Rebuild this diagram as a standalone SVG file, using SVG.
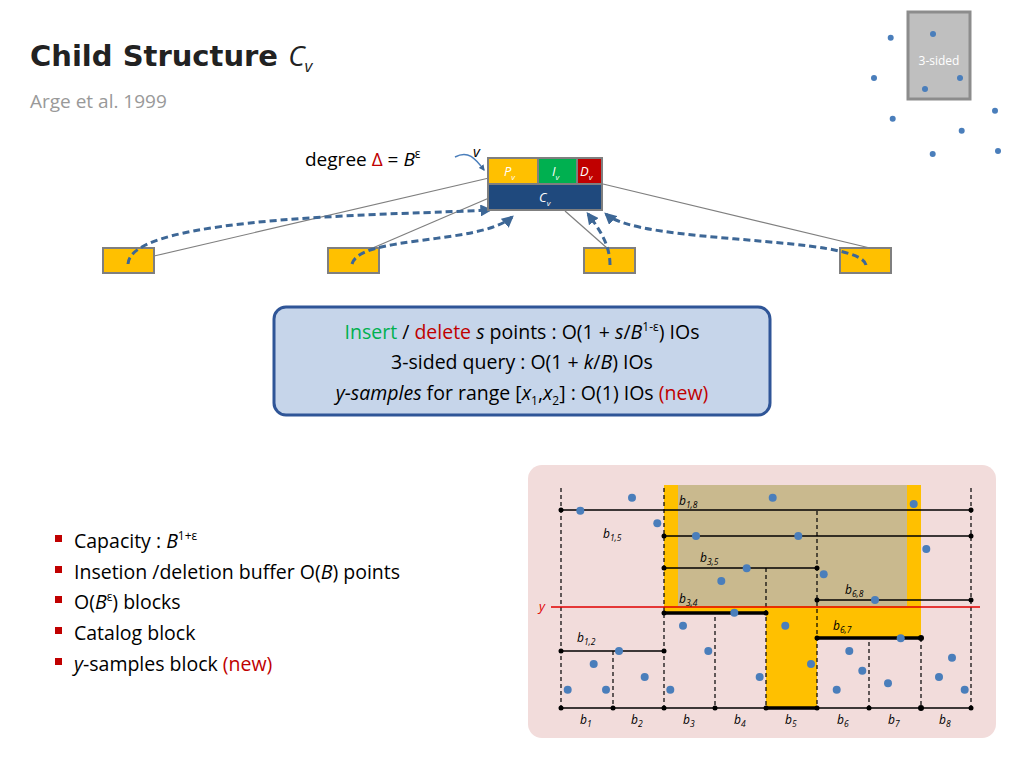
<svg xmlns="http://www.w3.org/2000/svg" width="1024" height="768" viewBox="0 0 1024 768">
<defs>
<marker id="ah" viewBox="0 0 10 10" refX="8" refY="5" markerWidth="4" markerHeight="4" orient="auto"><path d="M0,0 L10,5 L0,10 z" fill="#3d6796"/></marker>
</defs>
<style>
text{font-family:"Open Sans","Liberation Sans",sans-serif}
.dot{fill:#4a7ebb}
.leaf{fill:#ffc000;stroke:#7f7f7f;stroke-width:2}
.gl{stroke:#7f7f7f;stroke-width:1.2;fill:none}
.da{stroke:#3d6796;stroke-width:3;stroke-dasharray:7,4;fill:none;marker-end:url(#ah)}
.vd{stroke:#000;stroke-width:1.2;stroke-dasharray:4,3}
.h{stroke:#000;stroke-width:1.3}
.hb{stroke:#000;stroke-width:3.5}
.lb{font-size:12px;font-style:italic}
.sb{font-size:8.5px;font-style:italic}
</style>
<rect width="1024" height="768" fill="#fff"/>
<text x="30" y="66" font-size="29" font-weight="bold" fill="#222" style="font-family:'DejaVu Sans',sans-serif">Child Structure <tspan font-weight="normal" font-style="italic" style="font-family:'Open Sans',sans-serif" font-size="28">C</tspan><tspan font-weight="normal" font-style="italic" font-size="17" dy="6" style="font-family:'Open Sans',sans-serif">v</tspan></text>
<text x="30" y="108" font-size="19" fill="#999">Arge et al. 1999</text>
<g id="sided">
<rect x="908" y="12" width="62" height="87" fill="#bfbfbf" stroke="#8c8c8c" stroke-width="3"/>
<text x="939" y="65" font-size="12" fill="#fff" text-anchor="middle">3-sided</text>
<g class="dot"><circle cx="890.7" cy="37.7" r="3"/><circle cx="933" cy="34" r="3"/><circle cx="874" cy="78" r="3"/><circle cx="960" cy="78" r="3"/><circle cx="925" cy="89" r="3"/><circle cx="892.7" cy="118.7" r="3"/><circle cx="995" cy="110.7" r="3"/><circle cx="961.7" cy="130.7" r="3"/><circle cx="932.7" cy="154" r="3"/><circle cx="998" cy="151" r="3"/></g>
</g>
<text x="305" y="166" font-size="19">degree <tspan fill="#c00000">Δ</tspan> = <tspan font-style="italic">B</tspan><tspan font-size="12" dy="-8">ε</tspan></text>
<text x="473" y="157" font-size="15" font-style="italic">v</text>
<g id="leaf1"><rect class="leaf" x="103" y="248" width="51" height="25"/></g>
<g id="leaf2"><rect class="leaf" x="328" y="248" width="51" height="25"/></g>
<g id="leaf3"><rect class="leaf" x="584" y="248" width="51" height="25"/></g>
<g id="leaf4"><rect class="leaf" x="840" y="248" width="51" height="25"/></g>
<g id="connectors">
<line class="gl" x1="154" y1="256" x2="489" y2="178"/>
<line class="gl" x1="368" y1="250" x2="489" y2="198"/>
<line class="gl" x1="607" y1="248" x2="565" y2="211"/>
<line class="gl" x1="870" y1="248" x2="603" y2="184"/>
<path class="da" d="M128,264 C130,215 400,215 490,210"/>
<path class="da" d="M352,264 C360,235 480,245 512,217"/>
<path class="da" d="M610,265 C610,245 600,230 588,214"/>
<path class="da" d="M866,265 C860,235 640,245 606,214"/>
<path d="M455,157 C468,150 475,158 484,170" stroke="#4a7ebb" stroke-width="1.5" fill="none" marker-end="url(#ah)"/>
</g>
<g id="node-v">
<rect x="487" y="157" width="116" height="54" fill="#7f7f7f"/>
<rect x="489" y="159" width="48" height="24" fill="#ffc000"/>
<rect x="539" y="159" width="37" height="24" fill="#00b050"/>
<rect x="578" y="159" width="23" height="24" fill="#c00000"/>
<rect x="489" y="185" width="112" height="24" fill="#1f497d"/>
<text x="504" y="176" font-size="13" font-style="italic" fill="#fff">P<tspan font-size="8" dy="4">v</tspan></text>
<text x="552" y="176" font-size="13" font-style="italic" fill="#fff">I<tspan font-size="8" dy="4">v</tspan></text>
<text x="580" y="176" font-size="13" font-style="italic" fill="#fff">D<tspan font-size="8" dy="4">v</tspan></text>
<text x="539" y="202" font-size="13" font-style="italic" fill="#fff">C<tspan font-size="8" dy="4">v</tspan></text>
</g>
<g id="info">
<rect x="274" y="307" width="496" height="108" rx="12" fill="#c6d5ea" stroke="#2f5597" stroke-width="3"/>
<text x="522" y="339" font-size="19.5" text-anchor="middle"><tspan fill="#00b050">Insert</tspan> / <tspan fill="#c00000">delete</tspan> <tspan font-style="italic">s</tspan> points : O(1 + <tspan font-style="italic">s</tspan>/<tspan font-style="italic">B</tspan><tspan font-size="12" dy="-8">1-ε</tspan><tspan dy="8">) IOs</tspan></text>
<text x="522" y="369" font-size="19.5" text-anchor="middle">3-sided query : O(1 + <tspan font-style="italic">k</tspan>/<tspan font-style="italic">B</tspan>) IOs</text>
<text x="522" y="400" font-size="19.5" text-anchor="middle"><tspan font-style="italic">y-samples</tspan> for range [<tspan font-style="italic">x</tspan><tspan font-size="12" dy="5">1</tspan><tspan dy="-5">,</tspan><tspan font-style="italic">x</tspan><tspan font-size="12" dy="5">2</tspan><tspan dy="-5">] : O(1) IOs </tspan><tspan fill="#c00000">(new)</tspan></text>
</g>
<g id="bullets" font-size="19.5">
<g fill="#c00000"><rect x="55" y="535" width="7" height="7"/><rect x="55" y="566" width="7" height="7"/><rect x="55" y="596" width="7" height="7"/><rect x="55" y="627" width="7" height="7"/><rect x="55" y="658" width="7" height="7"/></g>
<text x="74" y="548">Capacity : <tspan font-style="italic">B</tspan><tspan font-size="12" dy="-8">1+ε</tspan></text>
<text x="74" y="579">Insetion /deletion buffer O(<tspan font-style="italic">B</tspan>) points</text>
<text x="74" y="609">O(<tspan font-style="italic">B</tspan><tspan font-size="12" dy="-8">ε</tspan><tspan dy="8">) blocks</tspan></text>
<text x="74" y="640">Catalog block</text>
<text x="74" y="671"><tspan font-style="italic">y</tspan>-samples block <tspan fill="#c00000">(new)</tspan></text>
</g>
<g id="panel">
<rect x="528" y="465" width="468" height="273" rx="14" fill="#f2dcdb"/>
<rect x="664" y="485" width="257" height="122" fill="#ffc000"/>
<rect x="678" y="485" width="229" height="122" fill="#c9b98e"/>
<rect x="664" y="606" width="102" height="6" fill="#ffc000"/>
<rect x="766" y="606" width="51" height="102" fill="#ffc000"/>
<rect x="817" y="606" width="104" height="32" fill="#ffc000"/>
<g class="vd">
<line x1="561" y1="488" x2="561" y2="708"/><line x1="613" y1="651" x2="613" y2="708"/><line x1="664" y1="488" x2="664" y2="708"/><line x1="715" y1="617" x2="715" y2="708"/><line x1="766" y1="568" x2="766" y2="708"/><line x1="817" y1="511" x2="817" y2="708"/><line x1="869" y1="642" x2="869" y2="708"/><line x1="921" y1="638" x2="921" y2="708"/><line x1="971" y1="488" x2="971" y2="708"/>
</g>
<g class="h">
<line x1="561" y1="510" x2="971" y2="510"/><line x1="664" y1="536" x2="971" y2="536"/><line x1="664" y1="568" x2="817" y2="568"/><line x1="817" y1="600" x2="971" y2="600"/><line x1="561" y1="651" x2="664" y2="651"/><line x1="561" y1="708" x2="971" y2="708"/>
</g>
<line x1="551" y1="607" x2="980" y2="607" stroke="#e00000" stroke-width="1.3"/>
<g class="hb"><line x1="664" y1="613" x2="766" y2="613"/><line x1="817" y1="638" x2="921" y2="638"/><line x1="766" y1="708" x2="817" y2="708"/></g>
<g fill="#000">
<circle cx="561" cy="510" r="2.5"/><circle cx="971" cy="510" r="2.5"/><circle cx="664" cy="536" r="2.5"/><circle cx="971" cy="536" r="2.5"/><circle cx="664" cy="568" r="2.5"/><circle cx="817" cy="568" r="2.5"/><circle cx="817" cy="600" r="2.5"/><circle cx="971" cy="600" r="2.5"/><circle cx="664" cy="613" r="2.5"/><circle cx="766" cy="613" r="2.5"/><circle cx="817" cy="638" r="2.5"/><circle cx="921" cy="638" r="3"/><circle cx="561" cy="651" r="2.5"/><circle cx="664" cy="651" r="2.5"/>
<circle cx="561" cy="708" r="2.5"/><circle cx="613" cy="708" r="2.5"/><circle cx="664" cy="708" r="2.5"/><circle cx="715" cy="708" r="2.5"/><circle cx="766" cy="708" r="2.5"/><circle cx="817" cy="708" r="2.5"/><circle cx="869" cy="708" r="2.5"/><circle cx="921" cy="708" r="3"/><circle cx="971" cy="708" r="2.5"/>
</g>
<text x="539" y="611" font-size="13" font-style="italic" fill="#e00000">y</text>
<g>
<text class="lb" x="679" y="505">b<tspan class="sb" dy="3">1,8</tspan></text>
<text class="lb" x="603" y="538">b<tspan class="sb" dy="3">1,5</tspan></text>
<text class="lb" x="700" y="562">b<tspan class="sb" dy="3">3,5</tspan></text>
<text class="lb" x="845" y="594">b<tspan class="sb" dy="3">6,8</tspan></text>
<text class="lb" x="679" y="603">b<tspan class="sb" dy="3">3,4</tspan></text>
<text class="lb" x="833" y="630">b<tspan class="sb" dy="3">6,7</tspan></text>
<text class="lb" x="577" y="642">b<tspan class="sb" dy="3">1,2</tspan></text>
<text class="lb" x="580" y="724">b<tspan class="sb" dy="3">1</tspan></text>
<text class="lb" x="631" y="724">b<tspan class="sb" dy="3">2</tspan></text>
<text class="lb" x="683" y="724">b<tspan class="sb" dy="3">3</tspan></text>
<text class="lb" x="734" y="724">b<tspan class="sb" dy="3">4</tspan></text>
<text class="lb" x="785" y="724">b<tspan class="sb" dy="3">5</tspan></text>
<text class="lb" x="837" y="724">b<tspan class="sb" dy="3">6</tspan></text>
<text class="lb" x="888" y="724">b<tspan class="sb" dy="3">7</tspan></text>
<text class="lb" x="939" y="724">b<tspan class="sb" dy="3">8</tspan></text>
</g>
<g class="dot">
<circle cx="632" cy="497.7" r="4"/><circle cx="580.3" cy="510.7" r="4"/><circle cx="657.3" cy="523.3" r="4"/><circle cx="772.7" cy="497.7" r="4"/><circle cx="913.7" cy="504" r="4"/><circle cx="696" cy="536" r="4"/><circle cx="798.3" cy="536" r="4"/><circle cx="926.3" cy="549" r="4"/><circle cx="746.7" cy="568.3" r="4"/><circle cx="721.3" cy="581" r="4"/><circle cx="823.7" cy="574.3" r="4"/><circle cx="875" cy="600" r="4"/><circle cx="734.3" cy="612.7" r="4"/><circle cx="683" cy="625.7" r="4"/><circle cx="785.3" cy="625.7" r="4"/><circle cx="619" cy="651" r="4"/><circle cx="708.3" cy="651" r="4"/><circle cx="900.7" cy="638.3" r="4"/><circle cx="593.7" cy="664" r="4"/><circle cx="644.7" cy="677" r="4"/><circle cx="811" cy="664" r="4"/><circle cx="849.3" cy="651" r="4"/><circle cx="862.3" cy="670.7" r="4"/><circle cx="952" cy="657.7" r="4"/><circle cx="939" cy="677" r="4"/><circle cx="567.7" cy="689.7" r="4"/><circle cx="606" cy="689.7" r="4"/><circle cx="670.3" cy="689.7" r="4"/><circle cx="759.7" cy="677" r="4"/><circle cx="836.7" cy="689.7" r="4"/><circle cx="888" cy="683.3" r="4"/><circle cx="964.7" cy="689.7" r="4"/>
</g>
</g>
</svg>
